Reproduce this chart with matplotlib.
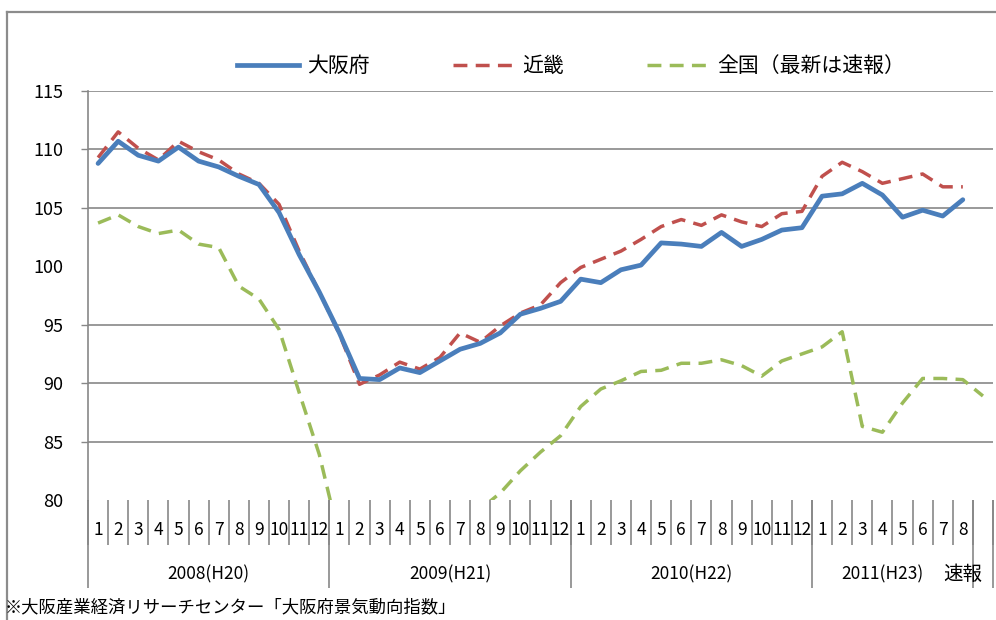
import matplotlib
matplotlib.use("Agg")
import matplotlib.pyplot as plt
from matplotlib.lines import Line2D
from matplotlib.transforms import blended_transform_factory

plt.rcParams['font.family'] = ['Noto Sans CJK JP', 'DejaVu Sans']

# -----------------------------------------
# Données
# -----------------------------------------
mois = [str(m) for m in range(1, 13)] * 3 + [str(m) for m in range(1, 9)] + [""]
annees = ["2008(H20)", "2009(H21)", "2010(H22)", "2011(H23)"]
annees_centre = [5.5, 17.5, 29.5, 39.0]
sokuhou = "速報"

osaka = [108.8, 110.7, 109.5, 109.0, 110.2, 109.0, 108.5, 107.7, 107.0, 104.6,
         101.0, 97.8, 94.3, 90.4, 90.3, 91.3, 90.9, 91.9, 92.9, 93.4,
         94.3, 95.9, 96.4, 97.0, 98.9, 98.6, 99.7, 100.1, 102.0, 101.9,
         101.7, 102.9, 101.7, 102.3, 103.1, 103.3, 106.0, 106.2, 107.1, 106.1,
         104.2, 104.8, 104.3, 105.7]
kinki = [109.3, 111.5, 110.1, 109.1, 110.7, 109.8, 109.1, 107.9, 107.1, 105.3,
         101.3, 97.8, 94.2, 89.9, 90.7, 91.8, 91.2, 92.2, 94.3, 93.5,
         94.9, 96.0, 96.7, 98.6, 99.9, 100.6, 101.3, 102.3, 103.4, 104.0,
         103.5, 104.4, 103.8, 103.4, 104.5, 104.7, 107.7, 108.9, 108.1, 107.1,
         107.5, 107.9, 106.8, 106.8]
zenkoku = [103.7, 104.4, 103.4, 102.8, 103.1, 101.9, 101.6, 98.3, 97.2, 94.6,
           89.2, 83.9, 76.7, 75.0, 74.9, 76.0, 76.5, 77.3, 78.0, 79.2,
           80.6, 82.5, 84.1, 85.5, 88.0, 89.5, 90.2, 91.0, 91.1, 91.7,
           91.7, 92.0, 91.5, 90.6, 91.9, 92.5, 93.1, 94.4, 86.3, 85.8,
           88.3, 90.4, 90.4, 90.3, 88.9]

labels = ["大阪府", "近畿", "全国（最新は速報）"]
source = "※大阪産業経済リサーチセンター「大阪府景気動向指数」"

W, H = 996, 620
def fy(py):
    return 1 - py / H

gris = "#878787"

fig = plt.figure(figsize=(W / 100, H / 100), dpi=100)
ax = fig.add_axes([88 / W, fy(500), 905 / W, (500 - 91) / H])

ax.plot(range(len(osaka)), osaka, color="#4A7EBB", linewidth=3.4,
        solid_capstyle="round", zorder=4)
ax.plot(range(len(kinki)), kinki, color="#C0504D", linewidth=2.5,
        linestyle=(0, (4, 2.4)), zorder=3)
ax.plot(range(len(zenkoku)), zenkoku, color="#9BBB59", linewidth=2.5,
        linestyle=(0, (4, 2.4)), zorder=3)

ax.set_xlim(-0.5, len(mois) - 0.5)
ax.set_ylim(80, 115)

# axe Y : grille seulement sur certaines valeurs (comme l'original)
ax.set_yticks([85, 90, 95, 105, 110, 115])
ax.set_yticks([80, 100], minor=True)
ax.set_yticklabels(["80", "100"], minor=True)
ax.tick_params(axis="y", which="major", length=5, width=1, color=gris,
               pad=13, labelsize=13)
ax.tick_params(axis="y", which="minor", length=0, pad=18, labelsize=13)
ax.yaxis.grid(True, which="major", color=gris, linewidth=1.2)
ax.set_axisbelow(True)
ax.set_xticks([])

for s in ["top", "right", "bottom"]:
    ax.spines[s].set_visible(False)
ax.spines["left"].set_color(gris)
ax.spines["left"].set_linewidth(1.2)

# axe X à deux niveaux
tr = blended_transform_factory(ax.transData, fig.transFigure)
bornes = [i - 0.5 for i in range(len(mois) + 1)]
ax.vlines(bornes, fy(545), fy(500), transform=tr, color=gris,
          linewidth=1.2, clip_on=False)
ax.vlines([-0.5, 11.5, 23.5, 35.5, 43.5, 44.5], fy(588), fy(500), transform=tr,
          color=gris, linewidth=1.2, clip_on=False)
for i, m in enumerate(mois):
    ax.text(i, fy(530), m, transform=tr, ha="center", va="center", fontsize=12.5)
for xc, a in zip(annees_centre, annees):
    ax.text(xc, fy(574), a, transform=tr, ha="center", va="center", fontsize=12.5)
ax.text(43, fy(574), sokuhou, transform=tr, ha="center", va="center", fontsize=14)

fig.text(5 / W, fy(607), source, ha="left", va="center", fontsize=12.5)

# cadre extérieur
fig.add_artist(Line2D([7 / W, 7 / W], [0, fy(12)], color="#8c8c8c", linewidth=1.6))
fig.add_artist(Line2D([7 / W, 1], [fy(12), fy(12)], color="#8c8c8c", linewidth=1.6))

# légende
handles = [Line2D([], [], color="#4A7EBB", linewidth=3.4),
           Line2D([], [], color="#C0504D", linewidth=2.5, linestyle=(0, (4, 2.4))),
           Line2D([], [], color="#9BBB59", linewidth=2.5, linestyle=(0, (4, 2.4)))]
fig.legend(handles, labels, loc="center", bbox_to_anchor=(571 / W, fy(66)),
           ncol=3, frameon=False, fontsize=15, handlelength=3.0,
           handletextpad=0.35, columnspacing=4.0)

fig.savefig("out.png", dpi=100)
